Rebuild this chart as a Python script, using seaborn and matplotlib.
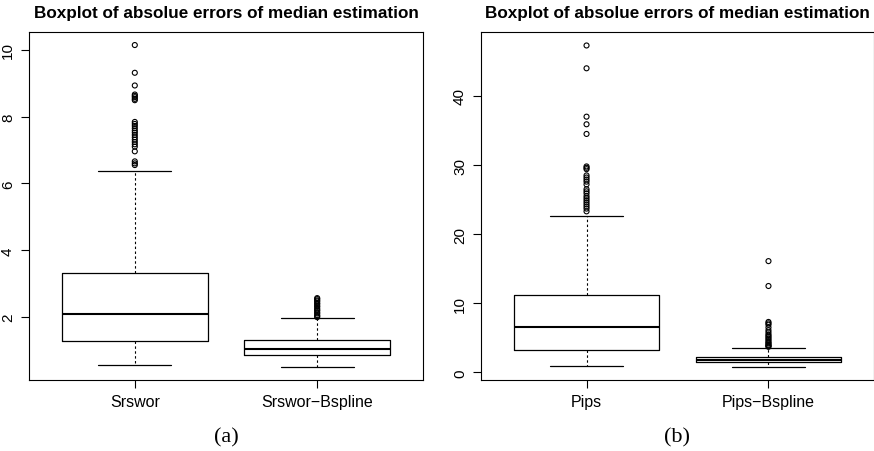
import matplotlib
matplotlib.use("Agg")
import matplotlib.pyplot as plt
import seaborn as sns
import pandas as pd

# ---------------- data ----------------
title_text = "Boxplot of absolue errors of median estimation"

groups_a = ["Srswor", "Srswor\u2212Bspline"]
a_whislo = [0.58, 0.50]
a_q1 = [1.28, 0.87]
a_med = [2.08, 1.06]
a_q3 = [3.32, 1.33]
a_whishi = [6.38, 1.98]
a_fliers_0 = [10.14, 9.31, 8.93, 8.66, 8.62, 8.58, 8.53, 8.49, 7.84, 7.78, 7.72,
              7.65, 7.58, 7.52, 7.45, 7.38, 7.31, 7.24, 7.17, 7.10, 6.96, 6.66,
              6.60, 6.55]
a_fliers_1 = [2.57, 2.54, 2.50, 2.47, 2.42, 2.39, 2.34, 2.31, 2.26, 2.22, 2.19,
              2.14, 2.11, 2.06, 2.03, 2.00]
a_yticks = [2, 4, 6, 8, 10]

groups_b = ["Pips", "Pips\u2212Bspline"]
b_whislo = [0.87, 0.72]
b_q1 = [3.23, 1.45]
b_med = [6.5, 1.82]
b_q3 = [11.14, 2.26]
b_whishi = [22.7, 3.6]
b_fliers_0 = [47.3, 44.0, 37.0, 35.9, 34.5, 29.8, 29.6, 29.4, 28.5, 28.2, 27.9,
              27.6, 27.2, 26.5, 26.2, 25.9, 25.5, 25.2, 24.9, 24.6, 24.3, 24.0,
              23.7, 23.3]
b_fliers_1 = [16.1, 12.5, 7.3, 7.1, 6.9, 6.5, 6.1, 5.8, 5.5, 5.3, 5.1, 4.9, 4.7,
              4.5, 4.3, 4.2, 4.0, 3.9, 3.8, 3.7]
b_yticks = [0, 10, 20, 30, 40]

captions = ["(a)", "(b)"]

# ---------------- style ----------------
sns.set_theme(style="ticks")
plt.rcParams["font.family"] = ["Liberation Sans", "DejaVu Sans"]
plt.rcParams["axes.edgecolor"] = "black"
plt.rcParams["axes.linewidth"] = 0.8
plt.rcParams["text.color"] = "black"
plt.rcParams["axes.titlecolor"] = "black"
plt.rcParams["xtick.color"] = "black"
plt.rcParams["ytick.color"] = "black"
plt.rcParams["xtick.labelcolor"] = "black"
plt.rcParams["ytick.labelcolor"] = "black"

fig = plt.figure(figsize=(8.74, 4.52), dpi=100)
ax_a = fig.add_axes([29 / 874, 71 / 452, 394 / 874, 348 / 452])
ax_b = fig.add_axes([481 / 874, 71 / 452, 393 / 874, 348 / 452])


def draw_panel(ax, groups, whislo, q1, med, q3, whishi, fliers0, fliers1,
               ylim, yticks):
    df = pd.DataFrame({
        "group": [groups[0]] * len(fliers0) + [groups[1]] * len(fliers1),
        "value": fliers0 + fliers1,
    })
    sns.stripplot(data=df, x="group", y="value", order=groups, jitter=False,
                  ax=ax, size=3.6, color="white", edgecolor="black",
                  linewidth=0.8, zorder=3)
    for coll in ax.collections:
        coll.set_facecolor("none")
        coll.set_edgecolor("black")

    stats = []
    for i, g in enumerate(groups):
        stats.append(dict(label=g, whislo=whislo[i], q1=q1[i], med=med[i],
                          q3=q3[i], whishi=whishi[i], fliers=[]))
    ax.bxp(stats, positions=[0, 1], widths=0.8, showfliers=False,
           boxprops=dict(color="black", linewidth=0.9),
           medianprops=dict(color="black", linewidth=1.5),
           whiskerprops=dict(color="black", linewidth=0.8,
                             linestyle=(0, (2.2, 2.2))),
           capprops=dict(color="black", linewidth=0.9),
           capwidths=0.4)

    ax.set_xlim(-0.58, 1.58)
    ax.set_ylim(*ylim)
    ax.set_xticks([0, 1])
    ax.set_xticklabels(groups, fontsize=11.5, color="black")
    ax.set_yticks(yticks)
    ax.set_yticklabels([str(t) for t in yticks], fontsize=11, color="black")
    for lab in ax.get_yticklabels():
        lab.set_rotation(90)
        lab.set_va("center")
    ax.set_xlabel("")
    ax.set_ylabel("")
    ax.tick_params(axis="both", length=6, width=0.8, color="black",
                   direction="out")
    ax.tick_params(axis="x", pad=4)
    ax.tick_params(axis="y", pad=4)
    for sp in ax.spines.values():
        sp.set_visible(True)
        sp.set_color("black")
        sp.set_linewidth(0.8)
    ax.set_title(title_text, fontsize=12.3, fontweight="bold", pad=11,
                 color="black")


draw_panel(ax_a, groups_a, a_whislo, a_q1, a_med, a_q3, a_whishi,
           a_fliers_0, a_fliers_1, (0.12, 10.53), a_yticks)
draw_panel(ax_b, groups_b, b_whislo, b_q1, b_med, b_q3, b_whishi,
           b_fliers_0, b_fliers_1, (-1.1, 49.25), b_yticks)

fig.text(226 / 874, 14 / 452, captions[0], ha="center", va="center",
         fontsize=16, color="black", family=["Liberation Serif", "DejaVu Serif"])
fig.text(677 / 874, 14 / 452, captions[1], ha="center", va="center",
         fontsize=16, color="black", family=["Liberation Serif", "DejaVu Serif"])

fig.savefig("out.png", dpi=100, facecolor="white")
